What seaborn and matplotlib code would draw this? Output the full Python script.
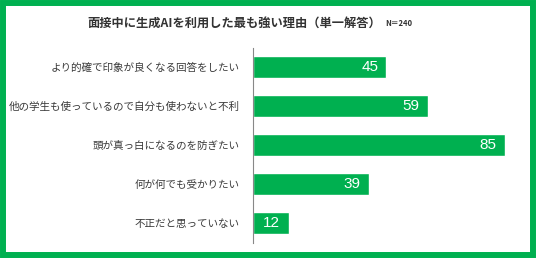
import matplotlib
matplotlib.use("Agg")
import matplotlib.pyplot as plt
import matplotlib.patches as patches
import seaborn as sns

# 面接中に生成AIを利用した最も強い理由（単一解答） N=240
reasons = [
    "より的確で印象が良くなる回答をしたい",
    "他の学生も使っているので自分も使わないと不利",
    "頭が真っ白になるのを防ぎたい",
    "何が何でも受かりたい",
    "不正だと思っていない",
]
counts = [45, 59, 85, 39, 12]
title = "面接中に生成AIを利用した最も強い理由（単一解答）"
note = "N＝240"

green = "#00B050"

sns.set_style("white")
plt.rcParams["font.family"] = ["Noto Sans CJK JP", "DejaVu Sans"]

fig = plt.figure(figsize=(5.36, 2.58), dpi=100)
ax = fig.add_axes([253 / 536, 1 - 242.5 / 258, 275 / 536, 195 / 258])

sns.barplot(x=counts, y=reasons, orient="h", color=green, saturation=1,
            width=0.56, ax=ax)
ax.set_xlim(0, 92.7)
ax.set_ylim(4.5, -0.5)
ax.set_xlabel("")
ax.set_ylabel("")
ax.set_xticks([])
ax.tick_params(axis="y", length=0, pad=9.5, labelsize=7.6, labelcolor="#3a3a3a")

for s in ["top", "right", "bottom"]:
    ax.spines[s].set_visible(False)
ax.spines["left"].set_color("#888888")
ax.spines["left"].set_linewidth(0.8)

labels = ax.bar_label(ax.containers[0], padding=-6, color="white",
                      fontsize=11, family="Liberation Sans")
for t in labels:
    t.set_ha("right")

fig.text(381 / 536, 1 - 23 / 258, title, ha="right", va="center",
         fontsize=8.8, fontweight="bold", color="#333333")
fig.text(385 / 536, 1 - 24 / 258, note, ha="left", va="center",
         fontsize=5.5, fontweight="bold", color="#333333")

border = patches.Rectangle((3 / 536, 3 / 258), 530 / 536, 252 / 258,
                           transform=fig.transFigure, fill=False,
                           linewidth=4.3, edgecolor=green)
fig.patches.append(border)

fig.savefig("out.png", dpi=100)
